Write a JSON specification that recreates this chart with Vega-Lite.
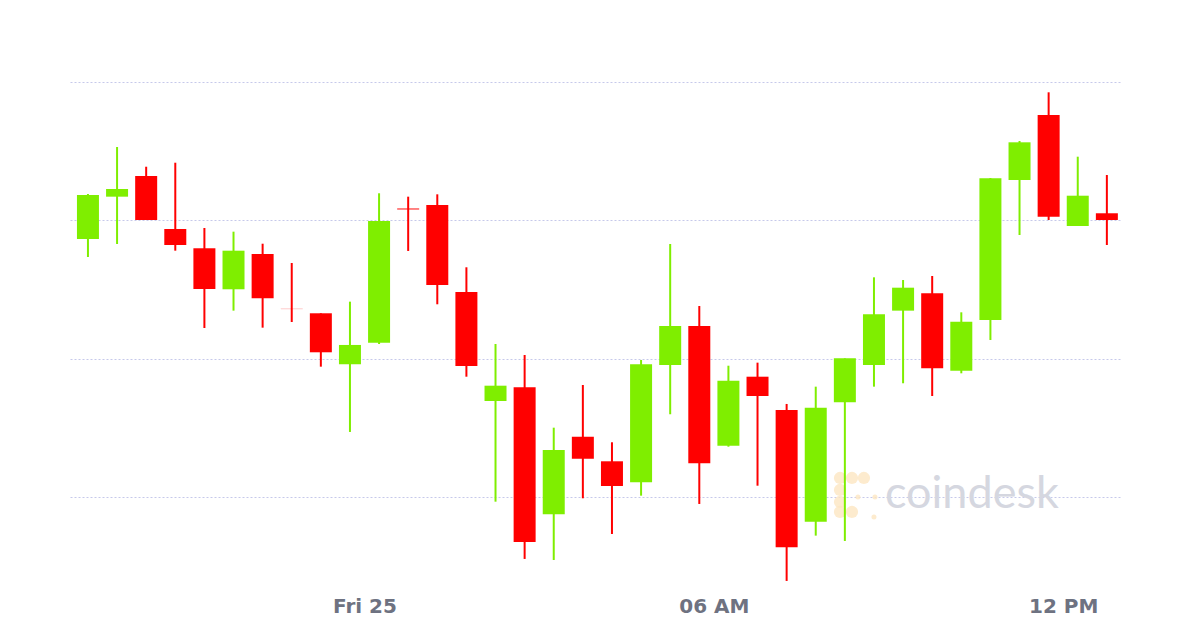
{
  "$schema": "https://vega.github.io/schema/vega-lite/v6.json",
  "width": 1052,
  "height": 580,
  "autosize": {"type": "none"},
  "padding": {"left": 70, "top": 10, "right": 78, "bottom": 38},
  "background": "white",
  "config": {"view": {"stroke": null}},
  "datasets": {
    "candles": [
      {"t": "2020-12-24T18:45:00", "open": 23868.4, "close": 23771.6, "high": 23872.8, "low": 23764.3},
      {"t": "2020-12-24T19:15:00", "open": 23773.0, "close": 23836.6, "high": 23838.1, "low": 23747.0},
      {"t": "2020-12-24T19:45:00", "open": 23834.2, "close": 23845.3, "high": 23906.0, "low": 23765.8},
      {"t": "2020-12-24T20:15:00", "open": 23864.1, "close": 23800.5, "high": 23877.5, "low": 23800.5},
      {"t": "2020-12-24T20:45:00", "open": 23787.5, "close": 23764.3, "high": 23883.3, "low": 23756.1},
      {"t": "2020-12-24T21:15:00", "open": 23759.6, "close": 23700.7, "high": 23788.9, "low": 23644.3},
      {"t": "2020-12-24T21:45:00", "open": 23700.3, "close": 23756.1, "high": 23783.6, "low": 23669.4},
      {"t": "2020-12-24T22:15:00", "open": 23751.3, "close": 23687.3, "high": 23766.2, "low": 23644.8},
      {"t": "2020-12-24T22:45:00", "open": 23672.0, "close": 23671.7, "high": 23738.3, "low": 23653.0},
      {"t": "2020-12-24T23:15:00", "open": 23665.6, "close": 23609.2, "high": 23665.6, "low": 23588.4},
      {"t": "2020-12-24T23:45:00", "open": 23591.9, "close": 23619.8, "high": 23682.4, "low": 23494.0},
      {"t": "2020-12-25T00:15:00", "open": 23623.1, "close": 23799.0, "high": 23839.1, "low": 23621.2},
      {"t": "2020-12-25T00:45:00", "open": 23817.1, "close": 23815.7, "high": 23834.2, "low": 23755.7},
      {"t": "2020-12-25T01:15:00", "open": 23822.2, "close": 23706.5, "high": 23837.6, "low": 23678.6},
      {"t": "2020-12-25T01:45:00", "open": 23696.4, "close": 23589.4, "high": 23732.1, "low": 23573.9},
      {"t": "2020-12-25T02:15:00", "open": 23538.8, "close": 23560.9, "high": 23621.2, "low": 23393.2},
      {"t": "2020-12-25T02:45:00", "open": 23558.6, "close": 23334.9, "high": 23605.3, "low": 23310.4},
      {"t": "2020-12-25T03:15:00", "open": 23375.0, "close": 23468.0, "high": 23500.2, "low": 23308.9},
      {"t": "2020-12-25T03:45:00", "open": 23487.2, "close": 23455.4, "high": 23561.9, "low": 23398.1},
      {"t": "2020-12-25T04:15:00", "open": 23451.6, "close": 23415.9, "high": 23479.1, "low": 23346.5},
      {"t": "2020-12-25T04:45:00", "open": 23421.3, "close": 23591.9, "high": 23598.1, "low": 23401.9},
      {"t": "2020-12-25T05:15:00", "open": 23590.8, "close": 23647.2, "high": 23765.8, "low": 23519.6},
      {"t": "2020-12-25T05:45:00", "open": 23647.2, "close": 23448.7, "high": 23676.1, "low": 23389.9},
      {"t": "2020-12-25T06:15:00", "open": 23474.2, "close": 23568.1, "high": 23589.8, "low": 23472.7},
      {"t": "2020-12-25T06:45:00", "open": 23573.9, "close": 23546.0, "high": 23594.2, "low": 23416.3},
      {"t": "2020-12-25T07:15:00", "open": 23525.8, "close": 23327.3, "high": 23534.5, "low": 23278.6},
      {"t": "2020-12-25T07:45:00", "open": 23364.3, "close": 23529.1, "high": 23559.5, "low": 23344.1},
      {"t": "2020-12-25T08:15:00", "open": 23536.9, "close": 23600.5, "high": 23600.5, "low": 23336.4},
      {"t": "2020-12-25T08:45:00", "open": 23590.8, "close": 23664.1, "high": 23717.6, "low": 23559.5},
      {"t": "2020-12-25T09:15:00", "open": 23669.4, "close": 23702.6, "high": 23713.7, "low": 23564.4},
      {"t": "2020-12-25T09:45:00", "open": 23694.5, "close": 23586.1, "high": 23719.5, "low": 23546.0},
      {"t": "2020-12-25T10:15:00", "open": 23582.6, "close": 23653.4, "high": 23667.0, "low": 23578.8},
      {"t": "2020-12-25T10:45:00", "open": 23655.9, "close": 23860.8, "high": 23861.2, "low": 23627.0},
      {"t": "2020-12-25T11:15:00", "open": 23858.3, "close": 23912.8, "high": 23914.7, "low": 23778.8},
      {"t": "2020-12-25T11:45:00", "open": 23952.3, "close": 23805.3, "high": 23985.1, "low": 23800.5},
      {"t": "2020-12-25T12:15:00", "open": 23791.8, "close": 23835.6, "high": 23892.0, "low": 23791.8},
      {"t": "2020-12-25T12:45:00", "open": 23810.2, "close": 23800.5, "high": 23865.5, "low": 23764.3}
    ],
    "logo": [
      {"t": "2020-12-25T08:10:00", "p": 23427.5, "s": "big"},
      {"t": "2020-12-25T08:22:20", "p": 23427.5, "s": "big"},
      {"t": "2020-12-25T08:34:40", "p": 23427.5, "s": "big"},
      {"t": "2020-12-25T08:10:00", "p": 23410.1, "s": "big"},
      {"t": "2020-12-25T08:10:00", "p": 23392.8, "s": "big"},
      {"t": "2020-12-25T08:10:00", "p": 23378.3, "s": "big"},
      {"t": "2020-12-25T08:22:20", "p": 23378.3, "s": "big"},
      {"t": "2020-12-25T08:28:30", "p": 23400.0, "s": "small"},
      {"t": "2020-12-25T08:46:00", "p": 23400.0, "s": "small"},
      {"t": "2020-12-25T08:45:00", "p": 23371.1, "s": "small"}
    ],
    "brand": [
      {"t": "2020-12-25T08:56:20", "p": 23384.1, "label": "coindesk"}
    ]
  },
  "layer": [
    {
      "data": {"name": "logo"},
      "mark": {"type": "circle", "color": "#fde6c2", "opacity": 0.8},
      "encoding": {
        "x": {"field": "t", "type": "temporal"},
        "y": {"field": "p", "type": "quantitative"},
        "size": {"field": "s", "type": "nominal", "scale": {"domain": ["big", "small"], "range": [150, 25]}, "legend": null}
      }
    },
    {
      "data": {"name": "brand"},
      "mark": {"type": "text", "font": "Lato", "fontSize": 45, "color": "#d5d7e0", "align": "left", "baseline": "alphabetic"},
      "encoding": {
        "x": {"field": "t", "type": "temporal"},
        "y": {"field": "p", "type": "quantitative"},
        "text": {"field": "label"}
      }
    },
    {
      "data": {"name": "candles"},
      "mark": {"type": "rule", "strokeWidth": 2, "clip": true},
      "encoding": {
        "x": {
          "field": "t", "type": "temporal",
          "scale": {"padding": 0, "domain": [
            {"year": 2020, "month": 12, "date": 24, "hours": 18, "minutes": 56, "seconds": 30},
            {"year": 2020, "month": 12, "date": 25, "hours": 13, "minutes": 0, "seconds": 36}
          ]},
          "axis": {
            "values": [
              {"year": 2020, "month": 12, "date": 25, "hours": 0},
              {"year": 2020, "month": 12, "date": 25, "hours": 6},
              {"year": 2020, "month": 12, "date": 25, "hours": 12}
            ],
            "labelExpr": "hours(datum.value) == 0 ? timeFormat(datum.value, '%a %d') : timeFormat(datum.value, '%I %p')",
            "title": null, "domain": false, "ticks": false, "grid": false,
            "labelFont": "DejaVu Sans", "labelFontSize": 20, "labelFontWeight": "bold",
            "labelColor": "#6e7281", "labelPadding": 6, "labelFlush": false, "labelOverlap": false
          }
        },
        "y": {
          "field": "low", "type": "quantitative",
          "scale": {"domain": [23265.5, 24104.1], "nice": false, "zero": false, "padding": 0},
          "axis": {
            "values": [23400, 23600, 23800, 24000],
            "labels": false, "ticks": false, "domain": false, "title": null,
            "grid": true, "gridColor": "#c6c9ea", "gridDash": [2, 2], "gridWidth": 1
          }
        },
        "y2": {"field": "high"},
        "color": {"condition": {"test": "datum.close >= datum.open", "value": "#7fee00"}, "value": "#ff0000"}
      }
    },
    {
      "data": {"name": "candles"},
      "mark": {"type": "bar", "size": 22, "clip": true},
      "encoding": {
        "x": {"field": "t", "type": "temporal"},
        "y": {"field": "open", "type": "quantitative"},
        "y2": {"field": "close"},
        "color": {"condition": {"test": "datum.close >= datum.open", "value": "#7fee00"}, "value": "#ff0000"}
      }
    }
  ]
}
